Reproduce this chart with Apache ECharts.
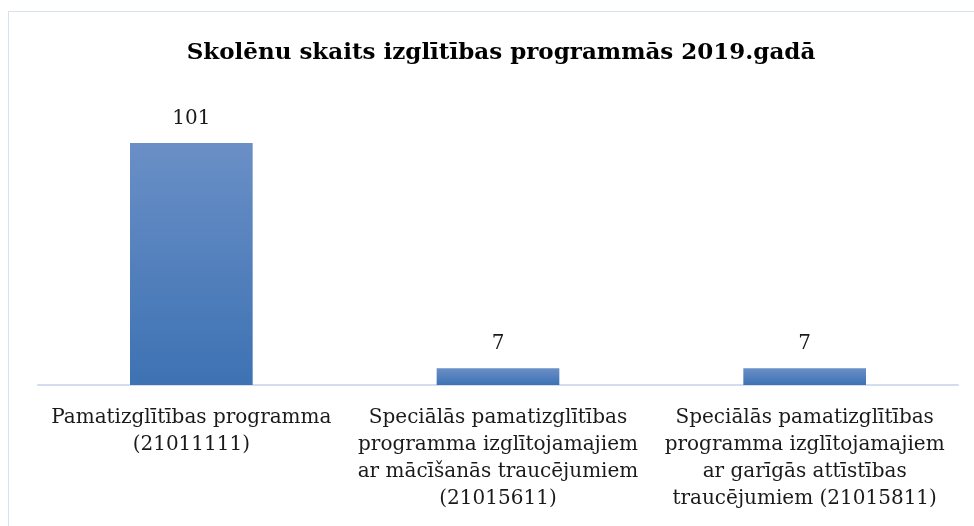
<!DOCTYPE html>
<html>
<head>
<meta charset="utf-8">
<script src="https://cdn.jsdelivr.net/npm/echarts@6/dist/echarts.min.js"></script>
<style>
  html, body { margin: 0; padding: 0; background: #fff; }
  #frame { position: absolute; left: 8px; top: 11px; width: 980px; height: 530px; border: 1px solid #d9e1ee; box-sizing: border-box; }
  #chart { position: absolute; left: 0; top: 0; width: 974px; height: 526px; }
</style>
</head>
<body>
<div id="frame"></div>
<div id="chart"></div>
<script>
  const titleText = 'Skolēnu skaits izglītības programmās 2019.gadā'
  const categories = [
    'Pamatizglītības programma\n(21011111)',
    'Speciālās pamatizglītības\nprogramma izglītojamajiem\nar mācīšanās traucējumiem\n(21015611)',
    'Speciālās pamatizglītības\nprogramma izglītojamajiem\nar garīgās attīstības\ntraucējumiem (21015811)'
  ]
  const pupils = [101, 7, 7]

  const fontFamily = '"DejaVu Serif", serif'
  const chart = echarts.init(document.getElementById('chart'))
  chart.setOption({
    backgroundColor: 'transparent',
    title: {
      text: titleText,
      left: 496,
      top: 37,
      textAlign: 'center',
      textStyle: { fontFamily, fontSize: 23, fontWeight: 'bold', color: '#000' }
    },
    grid: { left: 38, right: 16, top: 97.5, bottom: 141 },
    xAxis: {
      type: 'category',
      data: categories,
      axisLine: { lineStyle: { color: '#d3ddee', width: 2 } },
      axisTick: { show: false },
      axisLabel: {
        interval: 0,
        margin: 19,
        fontFamily,
        fontSize: 20,
        lineHeight: 27,
        color: '#1a1a1a'
      }
    },
    yAxis: {
      type: 'value',
      min: 0,
      max: 120,
      show: false
    },
    series: [{
      type: 'bar',
      data: pupils,
      barWidth: '40%',
      itemStyle: {
        color: new echarts.graphic.LinearGradient(0, 0, 0, 1, [
          { offset: 0, color: '#6a8fc6' },
          { offset: 1, color: '#3d72b3' }
        ])
      },
      label: {
        show: true,
        position: 'top',
        distance: 14,
        fontFamily,
        fontSize: 20,
        color: '#1a1a1a'
      }
    }]
  })
</script>
</body>
</html>
